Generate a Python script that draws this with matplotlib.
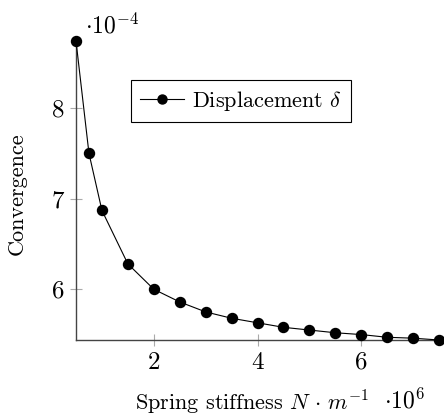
import matplotlib
matplotlib.use("Agg")
import matplotlib.pyplot as plt

# Spring stiffness (x 10^6 N/m) and convergence (x 10^-4)
stiffness = [0.5, 0.75, 1.0, 1.5, 2.0, 2.5, 3.0, 3.5, 4.0, 4.5, 5.0, 5.5, 6.0, 6.5, 7.0, 7.5]
displacement = [8.74, 7.50, 6.87, 6.28, 6.00, 5.86, 5.75, 5.68, 5.63, 5.58, 5.55, 5.52,
                5.50, 5.47, 5.46, 5.44]
xticks = [2, 4, 6]
yticks = [6, 7, 8]

plt.rcParams["font.family"] = "serif"
plt.rcParams["font.serif"] = ["cmr10", "DejaVu Serif"]
plt.rcParams["mathtext.fontset"] = "cm"
plt.rcParams["axes.formatter.use_mathtext"] = True

W, H = 444, 419
fig = plt.figure(figsize=(W / 100, H / 100), dpi=100)
ax = fig.add_axes([76 / W, 1 - 340 / H, 363 / W, 299 / H])

ax.plot(stiffness, displacement, color="black", lw=0.8, marker="o", ms=7.2,
        clip_on=False, zorder=5, label=r"Displacement $\delta$")

ax.set_xlim(min(stiffness), max(stiffness))
ax.set_ylim(min(displacement), max(displacement))
ax.set_xticks(xticks)
ax.set_yticks(yticks)
ax.set_xticklabels([str(v) for v in xticks])
ax.set_yticklabels([str(v) for v in yticks])

for side in ("top", "right"):
    ax.spines[side].set_visible(False)
for side in ("left", "bottom"):
    ax.spines[side].set_color("#444444")
    ax.spines[side].set_linewidth(1.0)
ax.tick_params(direction="inout", length=9, width=0.8, color="#aaaaaa",
               labelsize=18, labelcolor="black", pad=4)

# axis arrow tips
ax.plot([1], [0], marker=">", ms=5, color="#444444", transform=ax.transAxes,
        clip_on=False, zorder=4)
ax.plot([0], [1], marker="^", ms=5, color="#444444", transform=ax.transAxes,
        clip_on=False, zorder=4)

ax.set_xlabel(r"Spring stiffness $N \,\cdot\, m^{-1}$", fontsize=16)
ax.xaxis.set_label_coords((252 - 76) / 363, (340 - 389) / 299)
ax.set_ylabel("Convergence", fontsize=16)
ax.yaxis.set_label_coords((27 - 76) / 363, (340 - 194) / 299)

fig.text(85 / W, 1 - 33 / H, r"${\cdot}10^{-4}$", fontsize=17, ha="left", va="baseline")
fig.text(384 / W, 1 - 408 / H, r"${\cdot}10^{6}$", fontsize=17, ha="left", va="baseline")

leg = ax.legend(loc="lower left", bbox_to_anchor=(131 / W, 1 - 122 / H),
                bbox_transform=fig.transFigure, markerscale=0.9,
                borderaxespad=0, fontsize=16, handlelength=2.0, handletextpad=0.35,
                borderpad=0.4, fancybox=False, framealpha=1, edgecolor="black")
leg.get_frame().set_linewidth(0.8)

fig.savefig("out.png", dpi=100)
